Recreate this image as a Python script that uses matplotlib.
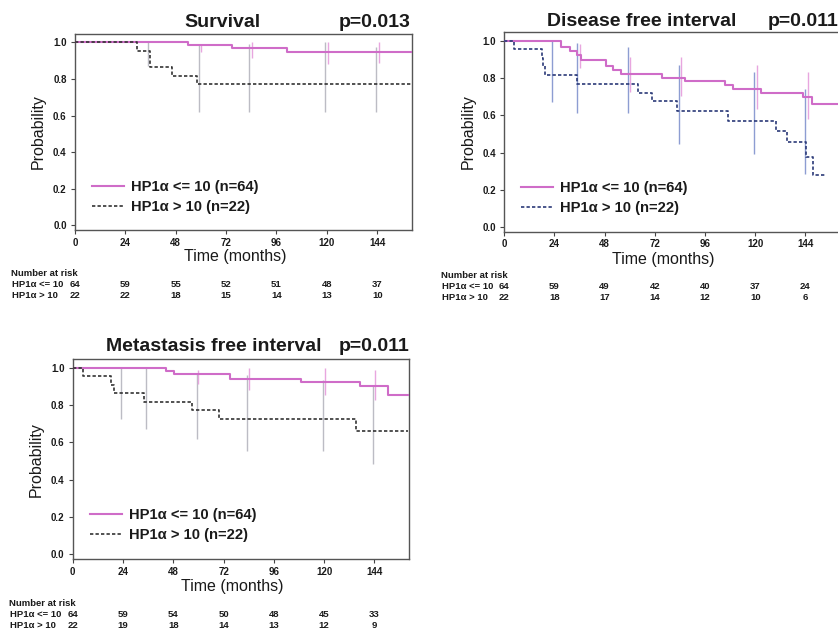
import matplotlib
matplotlib.use("Agg")
import matplotlib.pyplot as plt
import matplotlib.transforms as mtransforms

plt.rcParams['font.family'] = ['Liberation Sans', 'DejaVu Sans']

month_ticks = [0, 24, 48, 72, 96, 120, 144]
prob_ticks = [0.0, 0.2, 0.4, 0.6, 0.8, 1.0]
label_low = "HP1\u03b1 <= 10 (n=64)"
label_high = "HP1\u03b1 > 10 (n=22)"
row_low = "HP1\u03b1 <= 10"
row_high = "HP1\u03b1 > 10"

# Survival
surv_low_t = [0, 54, 75, 101, 160.5]
surv_low_p = [1.0, 0.984, 0.968, 0.946, 0.946]
surv_high_t = [0, 29.4, 35.8, 46, 58, 160.5]
surv_high_p = [1.0, 0.955, 0.864, 0.818, 0.773, 0.773]
surv_low_ci_t = [60.2, 84.5, 120.6, 144.6]
surv_low_ci_lo = [0.946, 0.916, 0.884, 0.889]
surv_low_ci_hi = [0.99, 1.0, 1.0, 1.0]
surv_high_ci_t = [34.7, 58.9, 82.8, 119.3, 143.4]
surv_high_ci_lo = [0.87, 0.62, 0.62, 0.62, 0.62]
surv_high_ci_hi = [1.0, 0.99, 0.99, 1.0, 0.975]
surv_risk_low = [64, 59, 55, 52, 51, 48, 37]
surv_risk_high = [22, 22, 18, 15, 14, 13, 10]

# Disease free interval
dfi_low_t = [0, 27.1, 31.4, 34.9, 36.7, 48.7, 51.9, 55.7, 75.6, 86.5, 105.6,
             109.6, 122.7, 142.8, 147.1, 161]
dfi_low_p = [1.0, 0.968, 0.946, 0.923, 0.896, 0.863, 0.842, 0.822, 0.80, 0.784,
             0.764, 0.743, 0.721, 0.697, 0.662, 0.662]
dfi_high_t = [0, 4.6, 18, 18.7, 19.5, 34.6, 64.1, 70.5, 82.5, 106.9, 129.9,
              135.4, 144.4, 147.8, 153.4]
dfi_high_p = [1.0, 0.955, 0.909, 0.864, 0.818, 0.77, 0.72, 0.674, 0.622, 0.571,
              0.517, 0.454, 0.378, 0.279, 0.279]
dfi_low_ci_t = [36.2, 60.1, 84.5, 120.8, 145]
dfi_low_ci_lo = [0.856, 0.725, 0.706, 0.634, 0.58]
dfi_low_ci_hi = [0.982, 0.914, 0.914, 0.869, 0.832]
dfi_high_ci_t = [23, 34.9, 59.3, 83.6, 119.6, 143.9]
dfi_high_ci_lo = [0.67, 0.611, 0.611, 0.445, 0.391, 0.283]
dfi_high_ci_hi = [1.0, 0.986, 0.968, 0.869, 0.832, 0.743]
dfi_risk_low = [64, 59, 49, 42, 40, 37, 24]
dfi_risk_high = [22, 18, 17, 14, 12, 10, 6]

# Metastasis free interval
mfi_low_t = [0, 44.3, 48.1, 75.2, 109.1, 136.9, 150.3, 160]
mfi_low_p = [1.0, 0.982, 0.964, 0.942, 0.923, 0.903, 0.854, 0.854]
mfi_high_t = [0, 5.1, 18.2, 19.5, 34, 57, 70, 135.3, 160]
mfi_high_p = [1.0, 0.955, 0.909, 0.864, 0.818, 0.773, 0.727, 0.662, 0.662]
mfi_low_ci_t = [59.7, 83.9, 120.2, 144.1]
mfi_low_ci_lo = [0.915, 0.879, 0.856, 0.825]
mfi_low_ci_hi = [0.988, 1.0, 1.0, 0.988]
mfi_high_ci_t = [23, 35.2, 59.2, 83.2, 119.4, 143.2]
mfi_high_ci_lo = [0.726, 0.672, 0.617, 0.554, 0.554, 0.482]
mfi_high_ci_hi = [0.997, 1.0, 0.97, 0.96, 0.933, 0.906]
mfi_risk_low = [64, 59, 54, 50, 48, 45, 33]
mfi_risk_high = [22, 19, 18, 14, 13, 12, 9]

pink = "#cf6cc8"
pink_ci = "#e8a6df"
text_col = "#1a1a1a"


def draw_panel(ax, title, pval, low_t, low_p, high_t, high_p, low_ci, high_ci,
               risk_low, risk_high, high_col, high_ci_col, title_x, title_y,
               p_x, p_ha):
    ax.set_xlim(0, 160.5)
    ax.set_ylim(-0.025, 1.045)

    ax.vlines(high_ci[0], high_ci[1], high_ci[2], colors=high_ci_col, lw=1.0, zorder=1)
    ax.vlines(low_ci[0], low_ci[1], low_ci[2], colors=pink_ci, lw=1.0, zorder=1)

    l1, = ax.step(low_t, low_p, where="post", color=pink, lw=1.5, zorder=3)
    l2, = ax.step(high_t, high_p, where="post", color=high_col, lw=1.2,
                  dashes=(2.0, 1.3), zorder=4)

    ax.set_xticks(month_ticks)
    ax.set_yticks(prob_ticks)
    ax.set_yticklabels(["%.1f" % v for v in prob_ticks])
    ax.tick_params(axis="both", labelsize=7, length=3, width=0.8,
                   colors="#444444", labelcolor=text_col)
    ax.tick_params(axis="x", pad=2.5)
    ax.tick_params(axis="y", pad=3)
    for lab in ax.get_xticklabels() + ax.get_yticklabels():
        lab.set_fontweight("bold")
    for sp in ax.spines.values():
        sp.set_color("#555555")
        sp.set_linewidth(1.0)

    ax.text(title_x, title_y, title, transform=ax.transAxes, ha="center",
            va="baseline", fontsize=14, fontweight="bold", color=text_col)
    ax.text(p_x, title_y, pval, transform=ax.transAxes, ha=p_ha,
            va="baseline", fontsize=14, fontweight="bold", color=text_col)

    ax.text(0.475, -0.137, "Time (months)", transform=ax.transAxes, ha="center",
            va="center", fontsize=11.5, color=text_col)
    ax.text(-0.108, 0.5, "Probability", transform=ax.transAxes, ha="center",
            va="center", rotation=90, fontsize=11.5, color=text_col)

    leg = ax.legend([l1, l2], [label_low, label_high], loc="upper left",
                    bbox_to_anchor=(0.05, 0.255), frameon=False, borderpad=0,
                    borderaxespad=0, handlelength=2.2, handletextpad=0.45,
                    labelspacing=0.42,
                    prop={"size": 10.6, "weight": "bold"})
    for t in leg.get_texts():
        t.set_color(text_col)

    # number at risk table
    trans = mtransforms.blended_transform_factory(ax.transData, ax.transAxes)
    ax.text(-0.19, -0.221, "Number at risk", transform=ax.transAxes, ha="left",
            va="center", fontsize=6.8, fontweight="bold", color=text_col)
    ax.text(-0.186, -0.276, row_low, transform=ax.transAxes, ha="left",
            va="center", fontsize=6.8, fontweight="bold", color=text_col)
    ax.text(-0.186, -0.332, row_high, transform=ax.transAxes, ha="left",
            va="center", fontsize=6.8, fontweight="bold", color=text_col)
    for m, a, b in zip(month_ticks, risk_low, risk_high):
        ax.text(m, -0.276, str(a), transform=trans, ha="center", va="center",
                fontsize=6.8, fontweight="bold", color=text_col, clip_on=False)
        ax.text(m, -0.332, str(b), transform=trans, ha="center", va="center",
                fontsize=6.8, fontweight="bold", color=text_col, clip_on=False)


fig = plt.figure(figsize=(8.38, 6.29), dpi=100)

ax1 = fig.add_axes([0.0895, 0.6343, 0.402, 0.3116])
draw_panel(ax1, "Survival", "p=0.013", surv_low_t, surv_low_p, surv_high_t, surv_high_p,
           (surv_low_ci_t, surv_low_ci_lo, surv_low_ci_hi),
           (surv_high_ci_t, surv_high_ci_lo, surv_high_ci_hi),
           surv_risk_low, surv_risk_high, "#333333", "#bcbcc4",
           0.439, 1.036, 0.997, "right")

ax2 = fig.add_axes([0.6018, 0.6316, 0.4005, 0.317])
draw_panel(ax2, "Disease free interval", "p=0.011", dfi_low_t, dfi_low_p, dfi_high_t,
           dfi_high_p,
           (dfi_low_ci_t, dfi_low_ci_lo, dfi_low_ci_hi),
           (dfi_high_ci_t, dfi_high_ci_lo, dfi_high_ci_hi),
           dfi_risk_low, dfi_risk_high, "#2b3a78", "#8d9dd2",
           0.41, 1.032, 0.786, "left")

ax3 = fig.add_axes([0.0868, 0.1113, 0.4013, 0.3175])
draw_panel(ax3, "Metastasis free interval", "p=0.011", mfi_low_t, mfi_low_p, mfi_high_t,
           mfi_high_p,
           (mfi_low_ci_t, mfi_low_ci_lo, mfi_low_ci_hi),
           (mfi_high_ci_t, mfi_high_ci_lo, mfi_high_ci_hi),
           mfi_risk_low, mfi_risk_high, "#333333", "#bcbcc4",
           0.42, 1.043, 1.0, "right")

fig.savefig("out.png", dpi=100)
